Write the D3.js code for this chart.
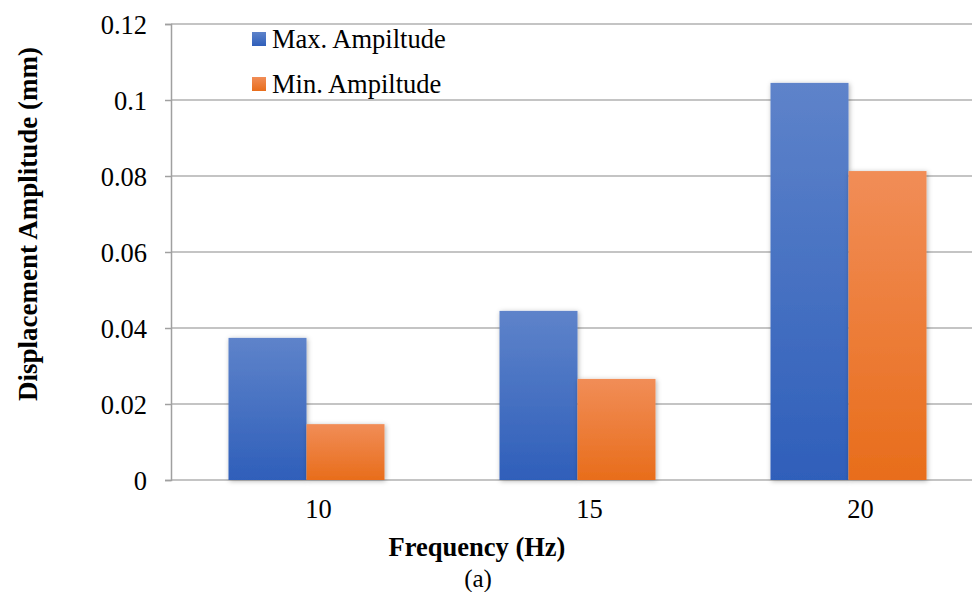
<!DOCTYPE html>
<html><head><meta charset="utf-8">
<script src="https://cdn.jsdelivr.net/npm/d3@7"></script>
<style>body{margin:0;background:#fff}svg{display:block}svg text{font-family:'Liberation Serif','Times New Roman',serif}</style>
</head><body>
<script>
const categories = ["10", "15", "20"];
const seriesNames = ["Max. Ampiltude", "Min. Ampiltude"];
const maxAmplitude = [0.0374, 0.0445, 0.1045];
const minAmplitude = [0.0147, 0.0266, 0.0813];
const yTicks = [0, 0.02, 0.04, 0.06, 0.08, 0.1, 0.12];
const yTickLabels = ["0", "0.02", "0.04", "0.06", "0.08", "0.1", "0.12"];

const W = 972, H = 592;
const m = {left: 171, top: 24, right: 984, bottom: 480};
const font = "'Liberation Serif', 'Times New Roman', serif";

const svg = d3.select("body").append("svg").attr("width", W).attr("height", H);
const defs = svg.append("defs");
const grads = [["gBlue", "#5e83ca", "#2f5fba"], ["gOrange", "#f18d57", "#e86d1b"]];
grads.forEach(([id, c1, c2]) => {
  const g = defs.append("linearGradient").attr("id", id).attr("x1", 0).attr("y1", 0).attr("x2", 0).attr("y2", 1);
  g.append("stop").attr("offset", "0%").attr("stop-color", c1);
  g.append("stop").attr("offset", "100%").attr("stop-color", c2);
});
const f = defs.append("filter").attr("id", "shadow").attr("x", "-20%").attr("y", "-20%").attr("width", "140%").attr("height", "140%");
f.append("feDropShadow").attr("dx", 1).attr("dy", 1).attr("stdDeviation", 2.5).attr("flood-color", "#000").attr("flood-opacity", 0.3);

const y = d3.scaleLinear().domain([0, 0.12]).range([m.bottom, m.top]);
const x0 = d3.scaleBand().domain(categories).range([m.left, m.right]).paddingInner(0.4244).paddingOuter(0.2122);
const x1 = d3.scaleBand().domain(seriesNames).range([0, x0.bandwidth()]);

// gridlines
svg.append("g").selectAll("line").data(yTicks).join("line")
  .attr("x1", m.left).attr("x2", W).attr("y1", d => y(d)).attr("y2", d => y(d))
  .attr("stroke", "#b0b0b0").attr("stroke-width", 1.5);

// y axis
const yAxis = d3.axisLeft(y).tickValues(yTicks).tickSize(6).tickPadding(18)
  .tickFormat((d, i) => yTickLabels[i]);
const ya = svg.append("g").attr("transform", `translate(${m.left},0)`).call(yAxis);
ya.select(".domain").attr("stroke", "#a0a0a0").attr("stroke-width", 1.5);
ya.selectAll(".tick line").attr("stroke", "#a0a0a0").attr("stroke-width", 1.5);
ya.selectAll(".tick text").style("font-family", font).style("font-size", "26.5px").attr("fill", "#000").attr("dy", "0.35em");

// bars
const data = categories.map((c, i) => ({cat: c, vals: [maxAmplitude[i], minAmplitude[i]]}));
const fills = ["url(#gBlue)", "url(#gOrange)"];
const groups = svg.append("g").selectAll("g").data(data).join("g")
  .attr("transform", d => `translate(${x0(d.cat)},0)`);
groups.selectAll("rect").data(d => d.vals.map((v, j) => ({name: seriesNames[j], v, j}))).join("rect")
  .attr("x", d => x1(d.name)).attr("width", x1.bandwidth())
  .attr("y", d => y(d.v)).attr("height", d => y(0) - y(d.v))
  .attr("fill", d => fills[d.j]).attr("filter", "url(#shadow)");

// x axis labels
const xa = svg.append("g").attr("transform", `translate(0,${m.bottom})`)
  .call(d3.axisBottom(x0).tickSize(0).tickPadding(20));
xa.select(".domain").remove();
xa.selectAll(".tick text").style("font-family", font).style("font-size", "26.5px")
  .attr("fill", "#000").attr("dx", 12).attr("y", 38).attr("dy", 0);

// titles
svg.append("text").attr("x", 477).attr("y", 556).attr("text-anchor", "middle")
  .style("font-family", font).attr("font-weight", "bold").style("font-size", "26.5px").text("Frequency (Hz)");
svg.append("text").attr("x", 478).attr("y", 587).attr("text-anchor", "middle")
  .style("font-family", font).style("font-size", "25px").text("(a)");
svg.append("text").attr("transform", "translate(28,224) rotate(-90)").attr("text-anchor", "middle")
  .attr("dy", "0.35em").style("font-family", font).attr("font-weight", "bold").style("font-size", "27px")
  .text("Displacement Amplitude (mm)");

// legend
const lg = svg.append("g");
const legendY = [48, 93];
seriesNames.forEach((n, i) => {
  lg.append("rect").attr("x", 252).attr("y", legendY[i] - 16).attr("width", 14).attr("height", 14).attr("fill", fills[i]);
  lg.append("text").attr("x", 272).attr("y", legendY[i])
    .style("font-family", font).style("font-size", "26.5px").text(n);
});
</script>
</body></html>
